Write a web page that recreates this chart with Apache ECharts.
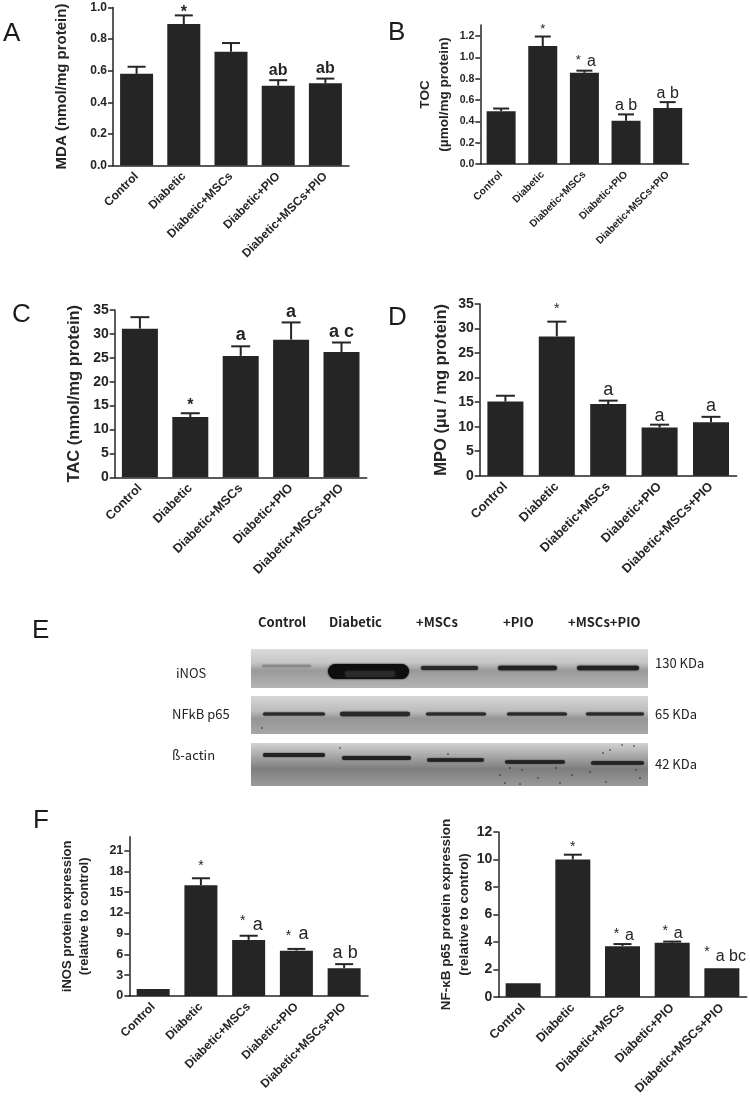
<!DOCTYPE html>
<html><head><meta charset="utf-8">
<style>html,body{margin:0;padding:0;background:#fff}#c{width:750px;height:1101px;filter:blur(0.35px)}</style>
<script src="https://cdn.jsdelivr.net/npm/echarts@6/dist/echarts.min.js"></script>
</head><body><div id="c"></div>
<script>
const categories = ['Control','Diabetic','Diabetic+MSCs','Diabetic+PIO','Diabetic+MSCs+PIO'];

const mdaValues = [0.58,0.895,0.72,0.505,0.52];
const mdaTops   = [0.625,0.95,0.775,0.54,0.55];
const mdaNotes  = [[1,'*'],[3,'ab'],[4,'ab']];
const mdaTicks  = [0,0.2,0.4,0.6,0.8,1.0];

const tocValues = [0.495,1.105,0.855,0.405,0.525];
const tocTops   = [0.52,1.195,0.875,0.465,0.58];
const tocNotes  = [[1,'*'],[2,'*'],[2,'a'],[3,'a b'],[4,'a b']];
const tocTicks  = [0,0.2,0.4,0.6,0.8,1.0,1.2];

const tacValues = [31.1,12.6,25.4,28.8,26.2];
const tacTops   = [33.5,13.4,27.4,32.4,28.2];
const tacNotes  = [[1,'*'],[2,'a'],[3,'a'],[4,'a c']];
const tacTicks  = [0,5,10,15,20,25,30,35];

const mpoValues = [15.1,28.4,14.6,9.8,10.9];
const mpoTops   = [16.3,31.4,15.3,10.4,12.0];
const mpoNotes  = [[1,'*'],[2,'a'],[3,'a'],[4,'a']];
const mpoTicks  = [0,5,10,15,20,25,30,35];

const inosValues = [1,16,8.1,6.55,4];
const inosTops   = [1,17,8.7,6.8,4.6];
const inosNotes  = [[1,'*'],[2,'*'],[2,'a'],[3,'*'],[3,'a'],[4,'a b']];
const inosTicks  = [0,3,6,9,12,15,18,21];

const nfkbValues = [1,10,3.7,3.95,2.1];
const nfkbTops   = [1,10.35,3.85,4.03,2.1];
const nfkbNotes  = [[1,'*'],[2,'*'],[2,'a'],[3,'*'],[3,'a'],[4,'*'],[4,'a bc']];
const nfkbTicks  = [0,2,4,6,8,10,12];

const blotLanes = ['Control','Diabetic','+MSCs','+PIO','+MSCs+PIO'];
const blotRows  = ['iNOS','NFkB p65','ß-actin'];
const blotSizes = ['130 KDa','65 KDa','42 KDa'];

const SANS = '"Liberation Sans",Arial,sans-serif';
const INK = '#252525';

const panels = [
 {name:'MDA (nmol/mg protein)',v:mdaValues,t:mdaTops,n:mdaNotes,ticks:mdaTicks,dec:1,max:1.0,
  l:113,r:349,y0:165.5,yT:7.5,bar:33,cap:18,tf:12,lf:12,nf:15,gap:42,
  off:[[0,5,'bold 16px'],[0,-2,'bold 16px'],[0,-2,'bold 16px']]},
 {name:'TOC\n(µmol/mg protein)',v:tocValues,t:tocTops,n:tocNotes,ticks:tocTicks,dec:1,max:1.303,
  l:480.3,r:688.5,y0:164,yT:25,bar:29,cap:16,tf:10.5,lf:10.3,nf:13.5,gap:27,lh:19,
  off:[[0,-1,'13px'],[-6,-4,'13px'],[7,-1,'16px'],[0,-1,'16px'],[0,-1,'16px']]},
 {name:'TAC (nmol/mg protein)',v:tacValues,t:tacTops,n:tacNotes,ticks:tacTicks,dec:0,max:35,
  l:114.7,r:366.7,y0:477.3,yT:310,bar:36,cap:19,tf:14,lf:12.7,nf:16.5,gap:30,
  off:[[0,0,'bold 16px'],[0,-2,'bold 18px'],[0,-1,'bold 18px'],[0,-1,'bold 18px']]},
 {name:'MPO (µu / mg protein)',v:mpoValues,t:mpoTops,n:mpoNotes,ticks:mpoTicks,dec:0,max:35,
  l:479.7,r:736.7,y0:475.7,yT:304,bar:36,cap:19,tf:14,lf:12.8,nf:16.5,gap:28,
  off:[[0,-6,'14px'],[0,-2,'18px'],[0,0,'18px'],[0,-2,'18px']]},
 {name:'iNOS protein expression\n(relative to control)',v:inosValues,t:inosTops,n:inosNotes,ticks:inosTicks,dec:0,max:23,
  l:129.3,r:368,y0:996,yT:836.7,bar:33,cap:18,tf:12.5,lf:12,nf:13,gap:36,lh:17,
  off:[[0,-5,'14px'],[-6,-8,'14px'],[9,-2,'18px'],[-8,-6,'14px'],[7,-6,'18px'],[1,-2,'18px']]},
 {name:'NF-κB p65 protein expression\n(relative to control)',v:nfkbValues,t:nfkbTops,n:nfkbNotes,ticks:nfkbTicks,dec:0,max:12,
  l:498.3,r:746.7,y0:997,yT:832,bar:35,cap:18,tf:14,lf:12.5,nf:13.5,gap:19,lh:18,
  off:[[0,-1,'14px'],[-6,-3,'14px'],[7,0,'16px'],[-7,-3,'14px'],[6,0,'16px'],[-15,-9,'14px'],[9,-4,'16px']]}
];

const grid=[],xAxis=[],yAxis=[],series=[];
panels.forEach((p,k)=>{
 grid.push({left:p.l,top:p.yT,width:p.r-p.l,height:p.y0-p.yT,containLabel:false});
 xAxis.push({type:'category',gridIndex:k,data:categories,
  axisLine:{lineStyle:{color:INK,width:1.5}},
  axisTick:{alignWithLabel:true,length:5,lineStyle:{color:INK,width:1.5}},
  axisLabel:{interval:0,rotate:45,margin:9,color:INK,fontWeight:'bold',fontFamily:SANS,fontSize:p.lf}});
 yAxis.push({type:'value',gridIndex:k,min:0,max:p.max,splitLine:{show:false},
  name:p.name,nameLocation:'middle',nameGap:p.gap,
  nameTextStyle:{color:INK,fontWeight:'bold',fontFamily:SANS,fontSize:p.nf,lineHeight:p.lh||p.nf*1.2},
  axisLine:{show:true,onZero:false,lineStyle:{color:INK,width:1.5}},
  axisTick:{show:true,length:5,lineStyle:{color:INK,width:1.5},customValues:p.ticks},
  axisLabel:{margin:6,color:INK,fontWeight:'bold',fontFamily:SANS,fontSize:p.tf,
   customValues:p.ticks,formatter:v=>v.toFixed(p.dec)}});
 series.push({type:'bar',xAxisIndex:k,yAxisIndex:k,data:p.v,barWidth:p.bar,
  itemStyle:{color:INK},silent:true,z:2});
 series.push({type:'custom',xAxisIndex:k,yAxisIndex:k,silent:true,z:3,clip:false,
  data:p.v.map((v,i)=>[i,v,p.t[i]]),encode:{x:0,y:2},
  renderItem:(ctx,api)=>{
   if(api.value(2)<=api.value(1)) return {type:'group',children:[]};
   const a=api.coord([api.value(0),api.value(1)]),b=api.coord([api.value(0),api.value(2)]);
   const s={stroke:INK,lineWidth:2};
   return {type:'group',children:[
    {type:'line',shape:{x1:a[0],y1:a[1],x2:b[0],y2:b[1]},style:s},
    {type:'line',shape:{x1:b[0]-p.cap/2,y1:b[1],x2:b[0]+p.cap/2,y2:b[1]},style:s}]};
  }});
 series.push({type:'custom',xAxisIndex:k,yAxisIndex:k,silent:true,z:4,clip:false,
  data:p.n.map((n,i)=>[n[0],p.t[n[0]],i]),encode:{x:0,y:1},
  renderItem:(ctx,api)=>{
   const idx=api.value(2),c=api.coord([api.value(0),api.value(1)]),o=p.off[idx];
   return {type:'text',x:c[0]+o[0],y:c[1]+o[1],style:{text:p.n[idx][1],textAlign:'center',
    textVerticalAlign:'bottom',font:o[2]+' '+SANS,fill:INK}};
  }});
});

/* blot panel E and text */
const g=[];
const CJK='"Noto Sans CJK JP",'+SANS;
function txt(t,x,y,font,fill,align){g.push({type:'text',x,y,style:{text:t,font,fill:fill||'#222',textAlign:align||'left',textVerticalAlign:'middle'},z:10});}
[['A',3,34],['B',388,33],['C',12,315],['D',388,318],['E',32,631],['F',33,821]].forEach(a=>txt(a[0],a[1],a[2],'26px '+SANS,'#1a1a1a'));

function strip(y,h,stops){g.push({type:'rect',shape:{x:251,y,width:397,height:h},z:5,style:{fill:{type:'linear',x:0,y:0,x2:0,y2:1,colorStops:stops}}});}
strip(649,39,[{offset:0,color:'#dcdcdc'},{offset:.35,color:'#c6c6c6'},{offset:.55,color:'#9a9a9a'},{offset:1,color:'#b4b4b4'}]);
strip(696,38,[{offset:0,color:'#d6d6d6'},{offset:.4,color:'#bcbcbc'},{offset:.6,color:'#959595'},{offset:1,color:'#a6a6a6'}]);
strip(743,43,[{offset:0,color:'#d2d2d2'},{offset:.3,color:'#a8a8a8'},{offset:.6,color:'#7e7e7e'},{offset:1,color:'#9a9a9a'}]);
function band(x1,x2,y,ry,fill,blur){g.push({type:'rect',shape:{x:x1,y:y-ry,width:x2-x1,height:2*ry,r:ry},z:6,style:{fill,shadowBlur:blur||2,shadowColor:fill}});}
band(262,311,666,1.2,'#8a8a8a',2);
band(328,409,671.5,7.5,'#0e0e0e',2);
band(345,395,674,3,'#2a2a2a',3);
band(421,478,668,2,'#2a2a2a',2);
band(498,557,668,2.2,'#222',2);
band(577,639,668,2.2,'#222',2);
[[263,325,1.6],[340,410,2.2],[426,486,1.5],[507,567,1.6],[586,644,1.4]].forEach(b=>band(b[0],b[1],714,b[2],'#2a2a2a',1.5));
[[263,325,755,2],[342,411,758,2],[427,484,760,1.8],[505,565,762,1.8],[591,644,763,1.8]].forEach(b=>band(b[0],b[1],b[2],b[3],'#222',1.5));
[[262,728],[340,748],[448,754],[500,775],[510,768],[522,770],[530,763],[538,778],[556,768],[572,775],[590,772],[603,753],[610,750],[622,745],[634,746],[636,770],[640,778],[560,783],[520,784],[606,782],[505,783]]
 .forEach(s=>g.push({type:'circle',shape:{cx:s[0],cy:s[1],r:.8},z:7,style:{fill:'#222'}}));

const laneX=[258,329,416,503,568];
blotLanes.forEach((t,i)=>txt(t,laneX[i],622,'bold 13px '+CJK,'#222'));
[[176,673],[172,714],[172,755]].forEach((p,i)=>txt(blotRows[i],p[0],p[1],'13px '+CJK));
[663,714,764].forEach((y,i)=>txt(blotSizes[i],655,y,'13px '+CJK));

const chart=echarts.init(document.getElementById('c'),null,{renderer:'canvas'});
chart.setOption({animation:false,backgroundColor:'#fff',grid,xAxis,yAxis,series,graphic:{elements:g}});
</script></body></html>
